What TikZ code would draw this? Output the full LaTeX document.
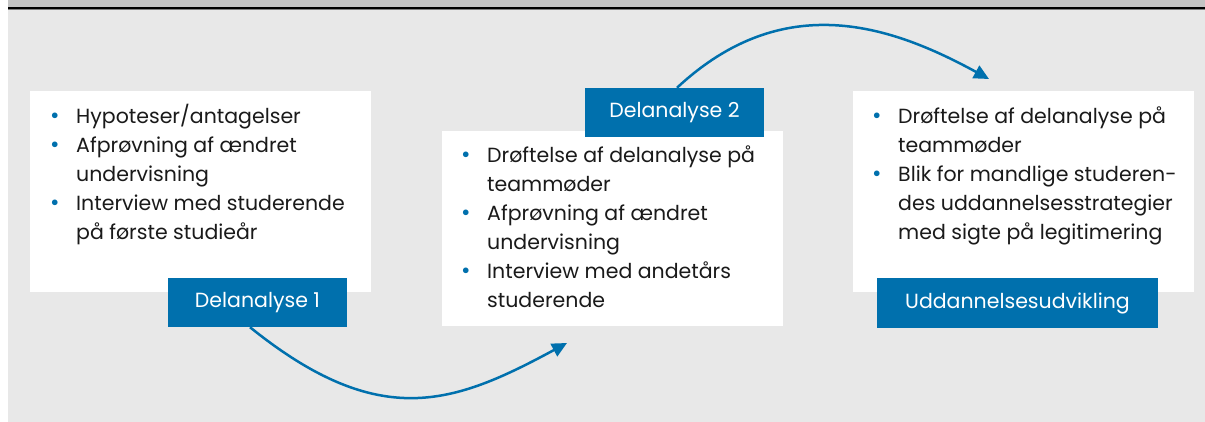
\documentclass[tikz,border=0pt]{standalone}
\usepackage{fontspec}
\setmainfont{Poppins}
\usetikzlibrary{arrows.meta}
\definecolor{tblue}{HTML}{0070AD}
\definecolor{bggray}{HTML}{E8E8E8}
\definecolor{topgray}{HTML}{C4C4C4}
\definecolor{txt}{HTML}{1A1A1A}
\newcommand{\bdot}{\makebox[26pt][l]{\raisebox{0pt}{\color{tblue}\fontsize{23}{23}\selectfont\textbullet}}}
\newcommand{\bskip}{\makebox[26pt][l]{}}
\tikzset{
  whitebox/.style={fill=white, draw=none, inner sep=0, anchor=north west},
  lbl/.style={fill=tblue, text=white, draw=none, inner sep=0, font=\fontsize{20.5}{24}\selectfont},
  bulltext/.style={anchor=base west, inner sep=0, text=txt, font=\fontsize{20.5}{29}\selectfont},
  flow/.style={draw=tblue, line width=2.5pt, -{Triangle[length=15pt,width=14pt]}},
}
\begin{document}
\begin{tikzpicture}[x=1pt,y=-1pt]
\useasboundingbox (0,0) rectangle (1205,422);
\fill[white] (0,0) rectangle (1205,422);
\fill[topgray] (8,0) rectangle (1205,7.5);
\fill[bggray] (8,9.5) rectangle (1205,422);
\draw[black, line width=1.3pt] (8,8) -- (1205,8);
\draw[gray, line width=0.8pt] (8,9.2) -- (1205,9.2);

\node[whitebox, minimum width=341pt, minimum height=201pt] (b1) at (30,91) {};
\node[whitebox, minimum width=341pt, minimum height=195pt] (b2) at (442,131) {};
\node[whitebox, minimum width=341pt, minimum height=201pt] (b3) at (853,91) {};

\node[bulltext] (t1) at (50,124) {\begin{tabular}[t]{@{}l@{}}
\bdot Hypoteser/antagelser\\
\bdot Afprøvning af ændret\\
\bskip undervisning\\
\bdot Interview med studerende\\
\bskip på første studieår
\end{tabular}};
\node[bulltext] (t2) at (461,163) {\begin{tabular}[t]{@{}l@{}}
\bdot Drøftelse af delanalyse på\\
\bskip teammøder\\
\bdot Afprøvning af ændret\\
\bskip undervisning\\
\bdot Interview med andetårs\\
\bskip studerende
\end{tabular}};
\node[bulltext] (t3) at (872,124) {\begin{tabular}[t]{@{}l@{}}
\bdot Drøftelse af delanalyse på\\
\bskip teammøder\\
\bdot Blik for mandlige studeren-\\
\bskip des uddannelsesstrategier\\
\bskip med sigte på legitimering
\end{tabular}};

\node[lbl, minimum width=179pt, minimum height=49pt] (l1) at (257.5,302.5) {Delanalyse 1};
\node[lbl, minimum width=179pt, minimum height=49pt] (l2) at (674.5,112.5) {Delanalyse 2};
\node[lbl, minimum width=281pt, minimum height=50pt] (l3) at (1017.5,303) {Uddannelsesudvikling};

\coordinate (e1) at (567,343);
\coordinate (e2) at (989,79);
\draw[flow] (l1.south -| 250,0) .. controls (380,432) and (454,404) .. (e1);
\draw[flow] (l2.north -| 677,0) .. controls (784,-12) and (892,26) .. (e2);
\end{tikzpicture}
\end{document}
